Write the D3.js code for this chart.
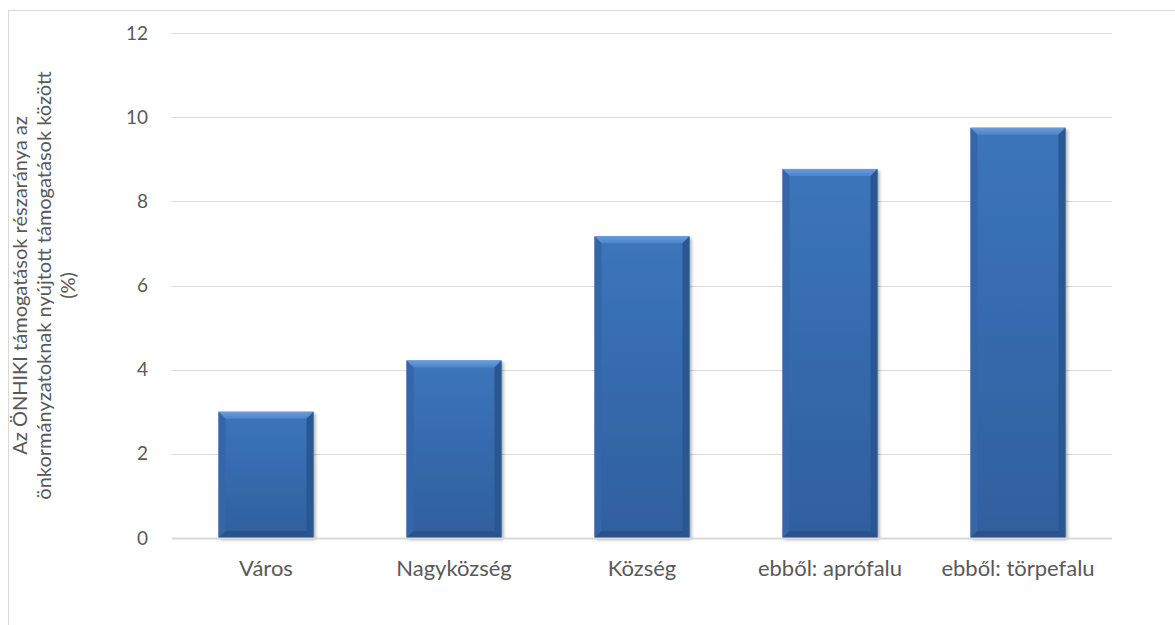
<!DOCTYPE html>
<html>
<head>
<meta charset="utf-8">
<script src="https://cdn.jsdelivr.net/npm/d3@7"></script>
<style>
  html, body { margin: 0; padding: 0; background: #fff; }
  svg { display: block; }
  text { font-family: Lato, "Open Sans", sans-serif; fill: #595959; }
</style>
</head>
<body>
<svg id="chart" width="1175" height="625"></svg>
<script>
// Settlement categories and the share of ÖNHIKI support (%)
const categories = ["Város", "Nagyközség", "Község", "ebből: aprófalu", "ebből: törpefalu"];
const values = [3.0, 4.22, 7.17, 8.77, 9.75];
const yTicks = [0, 2, 4, 6, 8, 10, 12];
const yTitleLines = [
  "Az ÖNHIKI támogatások részaránya az",
  "önkormányzatoknak nyújtott támogatások között",
  "(%)"
];

const svg = d3.select("#chart");
const margin = { left: 172, right: 1112, top: 33, bottom: 538 };

// Chart-area frame
svg.append("rect")
  .attr("x", 8.5).attr("y", 10.5)
  .attr("width", 1180).attr("height", 640)
  .attr("fill", "#fff").attr("stroke", "#d9d9d9").attr("stroke-width", 1);

const x = d3.scaleBand().domain(categories)
  .range([margin.left, margin.right]).paddingInner(0.495).paddingOuter(0.2475);
const y = d3.scaleLinear().domain([0, 12]).range([margin.bottom, margin.top]);

// Gridlines
svg.append("g").selectAll("line").data(yTicks.filter(t => t > 0)).join("line")
  .attr("x1", margin.left).attr("x2", margin.right)
  .attr("y1", d => Math.round(y(d)) + 0.5).attr("y2", d => Math.round(y(d)) + 0.5)
  .attr("stroke", "#d9d9d9").attr("stroke-width", 1);

// Y axis labels
const yAxis = d3.axisLeft(y).tickValues(yTicks).tickSize(0).tickPadding(0).tickFormat(d3.format("d"));
const gy = svg.append("g").attr("transform", `translate(${148},0)`).call(yAxis);
gy.select(".domain").remove();
gy.selectAll("text").style("font-size", "19px").attr("fill", "#595959")
  .style("font-family", "Lato, sans-serif");

// Bar gradients
const defs = svg.append("defs");
const face = defs.append("linearGradient").attr("id", "face").attr("x1", 0).attr("x2", 0).attr("y1", 0).attr("y2", 1);
face.append("stop").attr("offset", "0%").attr("stop-color", "#3c75bc");
face.append("stop").attr("offset", "100%").attr("stop-color", "#2f5f9e");
const topBev = defs.append("linearGradient").attr("id", "topBev").attr("x1", 0).attr("x2", 0).attr("y1", 0).attr("y2", 1);
topBev.append("stop").attr("offset", "0%").attr("stop-color", "#6a9cdb");
topBev.append("stop").attr("offset", "100%").attr("stop-color", "#4d85cb");
const shadow = defs.append("filter").attr("id", "shadow").attr("x", "-10%").attr("y", "-10%").attr("width", "130%").attr("height", "130%");
shadow.append("feGaussianBlur").attr("in", "SourceAlpha").attr("stdDeviation", 1.5).attr("result", "b");
shadow.append("feOffset").attr("in", "b").attr("dx", 1.5).attr("dy", 1.5).attr("result", "o");
shadow.append("feComponentTransfer").attr("in", "o").attr("result", "s")
  .append("feFuncA").attr("type", "linear").attr("slope", 0.3);
const mg = shadow.append("feMerge");
mg.append("feMergeNode").attr("in", "s");
mg.append("feMergeNode").attr("in", "SourceGraphic");

const bev = 7;
const bars = svg.append("g").selectAll("g").data(categories.map((c, i) => ({ c, v: values[i] }))).join("g")
  .attr("filter", "url(#shadow)");

bars.each(function(d) {
  const g = d3.select(this);
  const x0 = x(d.c), x1 = x(d.c) + x.bandwidth();
  const y0 = y(d.v), y1 = y(0);
  g.append("rect").attr("x", x0).attr("y", y0).attr("width", x1 - x0).attr("height", y1 - y0)
    .attr("fill", "url(#face)");
  const pts = (arr) => arr.map(p => p.join(",")).join(" ");
  // top bevel (light)
  g.append("polygon").attr("points", pts([[x0, y0], [x1, y0], [x1 - bev, y0 + bev], [x0 + bev, y0 + bev]]))
    .attr("fill", "url(#topBev)");
  // left bevel
  g.append("polygon").attr("points", pts([[x0, y0], [x0 + bev, y0 + bev], [x0 + bev, y1 - bev], [x0, y1]]))
    .attr("fill", "#3466a9");
  // right bevel (dark)
  g.append("polygon").attr("points", pts([[x1, y0], [x1, y1], [x1 - bev, y1 - bev], [x1 - bev, y0 + bev]]))
    .attr("fill", "#2b5792");
  // bottom bevel (dark)
  g.append("polygon").attr("points", pts([[x0, y1], [x1, y1], [x1 - bev, y1 - bev], [x0 + bev, y1 - bev]]))
    .attr("fill", "#29528b");
});

// Baseline
svg.append("line")
  .attr("x1", margin.left).attr("x2", margin.right)
  .attr("y1", y(0) + 0.5).attr("y2", y(0) + 0.5)
  .attr("stroke", "#d9d9d9").attr("stroke-width", 2);

// Category labels
const xAxis = d3.axisBottom(x).tickSize(0).tickPadding(0);
const gx = svg.append("g").attr("transform", `translate(0,${576})`).call(xAxis);
gx.select(".domain").remove();
gx.selectAll("text").style("font-size", "22px").attr("fill", "#595959")
  .style("font-family", "Lato, sans-serif").attr("y", 0).attr("dy", "0");

// Y axis title
const cy = (margin.top + margin.bottom) / 2;
const title = svg.append("text")
  .attr("transform", `translate(${51},${cy}) rotate(-90)`)
  .attr("text-anchor", "middle")
  .style("font-size", "20px");
yTitleLines.forEach((line, i) => {
  title.append("tspan").attr("x", 0).attr("dy", i === 0 ? -24 : 24).text(line);
});
</script>
</body>
</html>
